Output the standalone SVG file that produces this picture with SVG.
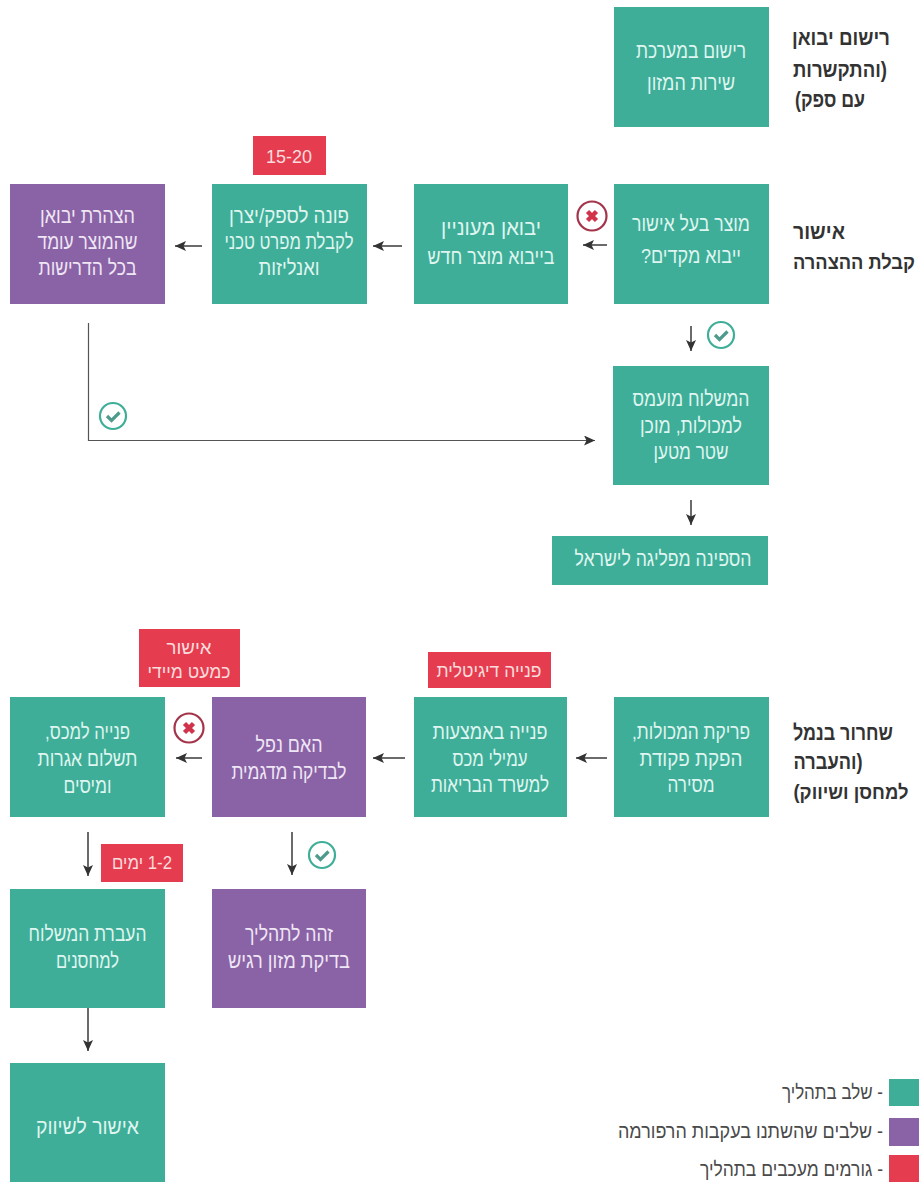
<svg xmlns="http://www.w3.org/2000/svg" width="921" height="1182" viewBox="0 0 921 1182">
<style>
text{font-family:"Liberation Sans","DejaVu Sans",sans-serif;direction:rtl;text-anchor:middle}
.t{fill:#3fae99}.p{fill:#8a62a6}.r{fill:#e63c50}
.bt{font-size:21px;fill:#dff5ef}
.pt{font-size:21px;fill:#efe6f4}
.rt{font-size:19px;fill:#fbdcdc}
.side{font-size:22px;font-weight:bold;fill:#333}
.side.s{font-size:19.500px}
.leg{font-size:20px;fill:#4a4a4a}
.conn{fill:none;stroke:#3a3a3a;stroke-width:1.5}
.thin{stroke:#555;stroke-width:1.2}
</style>
<defs>
<marker id="ah" markerUnits="userSpaceOnUse" markerWidth="12" markerHeight="10" refX="11" refY="5" orient="auto"><path d="M0 0L11 5L0 10L2.5 5Z" fill="#333"/></marker>
<g id="okI"><circle r="13" fill="#fff" stroke="#3fae99" stroke-width="2.2"/><path d="M-6 0L-1.5 4.5L6.5 -3.5" fill="none" stroke="#4f9a8c" stroke-width="3.2"/></g>
<g id="noI"><circle r="14.5" fill="#fff" stroke="#a3344a" stroke-width="2.2"/><path d="M-4.5 -4.5L4.5 4.5M4.5 -4.5L-4.5 4.5" fill="none" stroke="#d0334a" stroke-width="4.5"/></g>
</defs>
<rect width="921" height="1182" fill="#fff"/>
<g id="connectors" class="conn">
<path d="M607 245H583" marker-end="url(#ah)"/>
<path d="M402 246H373" marker-end="url(#ah)"/>
<path d="M202 246H175" marker-end="url(#ah)"/>
<path d="M691 326V351" marker-end="url(#ah)"/>
<path class="thin" d="M88.500 323V440.500H595" marker-end="url(#ah)"/>
<path d="M691 500V525" marker-end="url(#ah)"/>
<path d="M607 758H576" marker-end="url(#ah)"/>
<path d="M405 758H373" marker-end="url(#ah)"/>
<path d="M202 758H176" marker-end="url(#ah)"/>
<path d="M88 832V876" marker-end="url(#ah)"/>
<path d="M292 832V875" marker-end="url(#ah)"/>
<path d="M88 1005V1051" marker-end="url(#ah)"/>
<use href="#noI" x="592" y="216"/>
<use href="#okI" x="721" y="335"/>
<use href="#okI" x="113" y="416"/>
<use href="#noI" x="189" y="728"/>
<use href="#okI" x="322" y="855"/>
</g>
<g id="n-register">
<rect class="t" x="614" y="7" width="155" height="120"/>
<text class="bt" x="691" y="58" textLength="110" lengthAdjust="spacingAndGlyphs">רישום במערכת</text>
<text class="bt" x="691" y="90" textLength="88" lengthAdjust="spacingAndGlyphs">שירות המזון</text>
</g>
<g id="n-preapproved">
<rect class="t" x="614" y="184" width="155" height="120"/>
<text class="bt" x="691" y="231" textLength="118" lengthAdjust="spacingAndGlyphs">מוצר בעל אישור</text>
<text class="bt" x="691" y="263" textLength="100" lengthAdjust="spacingAndGlyphs">ייבוא מקדים?</text>
</g>
<g id="n-newproduct">
<rect class="t" x="414" y="184" width="154" height="120"/>
<text class="bt" x="491" y="235" textLength="100" lengthAdjust="spacingAndGlyphs">יבואן מעוניין</text>
<text class="bt" x="491" y="264" textLength="127" lengthAdjust="spacingAndGlyphs">בייבוא מוצר חדש</text>
</g>
<g id="n-supplier">
<rect class="t" x="212" y="184" width="155" height="120"/>
<text class="bt" x="289" y="223" textLength="120" lengthAdjust="spacingAndGlyphs">פונה לספק/יצרן</text>
<text class="bt" x="289" y="249" textLength="129" lengthAdjust="spacingAndGlyphs">לקבלת מפרט טכני</text>
<text class="bt" x="289" y="275" textLength="61" lengthAdjust="spacingAndGlyphs">ואנליזות</text>
</g>
<g id="n-declaration">
<rect class="p" x="10" y="184" width="155" height="120"/>
<text class="pt" x="87.500" y="223" textLength="95" lengthAdjust="spacingAndGlyphs">הצהרת יבואן</text>
<text class="pt" x="87.500" y="249" textLength="100" lengthAdjust="spacingAndGlyphs">שהמוצר עומד</text>
<text class="pt" x="87.500" y="275" textLength="98" lengthAdjust="spacingAndGlyphs">בכל הדרישות</text>
</g>
<g id="n-shipment">
<rect class="t" x="613" y="366" width="156" height="119"/>
<text class="bt" x="691" y="406" textLength="117" lengthAdjust="spacingAndGlyphs">המשלוח מועמס</text>
<text class="bt" x="691" y="433" textLength="102" lengthAdjust="spacingAndGlyphs">למכולות, מוכן</text>
<text class="bt" x="691" y="459" textLength="75" lengthAdjust="spacingAndGlyphs">שטר מטען</text>
</g>
<g id="n-ship">
<rect class="t" x="552" y="536" width="216" height="49"/>
<text class="bt" x="663" y="566" textLength="177" lengthAdjust="spacingAndGlyphs">הספינה מפליגה לישראל</text>
</g>
<g id="n-unload">
<rect class="t" x="614" y="697" width="155" height="120"/>
<text class="bt" x="691" y="739" textLength="118" lengthAdjust="spacingAndGlyphs">פריקת המכולות,</text>
<text class="bt" x="691" y="766" textLength="103" lengthAdjust="spacingAndGlyphs">הפקת פקודת</text>
<text class="bt" x="691" y="792" textLength="47" lengthAdjust="spacingAndGlyphs">מסירה</text>
</g>
<g id="n-customs-agents">
<rect class="t" x="414" y="697" width="153" height="120"/>
<text class="bt" x="490" y="739" textLength="115" lengthAdjust="spacingAndGlyphs">פנייה באמצעות</text>
<text class="bt" x="490" y="766" textLength="75" lengthAdjust="spacingAndGlyphs">עמילי מכס</text>
<text class="bt" x="490" y="792" textLength="118" lengthAdjust="spacingAndGlyphs">למשרד הבריאות</text>
</g>
<g id="n-sample">
<rect class="p" x="212" y="697" width="154" height="120"/>
<text class="pt" x="289" y="752" textLength="67" lengthAdjust="spacingAndGlyphs">האם נפל</text>
<text class="pt" x="289" y="779" textLength="115" lengthAdjust="spacingAndGlyphs">לבדיקה מדגמית</text>
</g>
<g id="n-customs">
<rect class="t" x="10" y="697" width="155" height="120"/>
<text class="bt" x="87.500" y="739" textLength="85" lengthAdjust="spacingAndGlyphs">פנייה למכס,</text>
<text class="bt" x="87.500" y="766" textLength="100" lengthAdjust="spacingAndGlyphs">תשלום אגרות</text>
<text class="bt" x="87.500" y="793" textLength="48" lengthAdjust="spacingAndGlyphs">ומיסים</text>
</g>
<g id="n-transfer">
<rect class="t" x="10" y="889" width="155" height="119"/>
<text class="bt" x="87.500" y="941" textLength="118" lengthAdjust="spacingAndGlyphs">העברת המשלוח</text>
<text class="bt" x="87.500" y="968" textLength="63" lengthAdjust="spacingAndGlyphs">למחסנים</text>
</g>
<g id="n-sensitive">
<rect class="p" x="212" y="889" width="154" height="119"/>
<text class="pt" x="289" y="941" textLength="88" lengthAdjust="spacingAndGlyphs">זהה לתהליך</text>
<text class="pt" x="289" y="968" textLength="122" lengthAdjust="spacingAndGlyphs">בדיקת מזון רגיש</text>
</g>
<g id="n-marketing">
<rect class="t" x="10" y="1063" width="155" height="119"/>
<text class="bt" x="87.500" y="1134" textLength="103" lengthAdjust="spacingAndGlyphs">אישור לשיווק</text>
</g>
<g id="tag-days">
<rect class="r" x="253" y="136" width="73" height="39"/>
<text class="rt" x="289" y="163" textLength="46" lengthAdjust="spacingAndGlyphs">15-20</text>
</g>
<g id="tag-digital">
<rect class="r" x="428" y="652" width="123" height="36"/>
<text class="rt" x="489" y="677" textLength="105" lengthAdjust="spacingAndGlyphs">פנייה דיגיטלית</text>
</g>
<g id="tag-approval">
<rect class="r" x="139" y="629" width="101" height="58"/>
<text class="rt" x="189" y="654" textLength="45" lengthAdjust="spacingAndGlyphs">אישור</text>
<text class="rt" x="189" y="678" textLength="83" lengthAdjust="spacingAndGlyphs">כמעט מיידי</text>
</g>
<g id="tag-12days">
<rect class="r" x="101" y="844" width="82" height="38"/>
<text class="rt" x="142" y="869" textLength="60" lengthAdjust="spacingAndGlyphs">1-2 ימים</text>
</g>
<g id="labels">
<text class="side" x="841" y="45" textLength="98" lengthAdjust="spacingAndGlyphs">רישום יבואן</text>
<text class="side" x="840" y="77" textLength="94" lengthAdjust="spacingAndGlyphs">(והתקשרות</text>
<text class="side" x="830" y="107" textLength="70" lengthAdjust="spacingAndGlyphs">עם ספק)</text>
<text class="side" x="819" y="239" textLength="52" lengthAdjust="spacingAndGlyphs">אישור</text>
<text class="side s" x="854" y="269" textLength="122" lengthAdjust="spacingAndGlyphs">קבלת ההצהרה</text>
<text class="side" x="843" y="740" textLength="100" lengthAdjust="spacingAndGlyphs">שחרור בנמל</text>
<text class="side" x="828" y="769" textLength="69" lengthAdjust="spacingAndGlyphs">(והעברה</text>
<text class="side s" x="851" y="799" textLength="115" lengthAdjust="spacingAndGlyphs">למחסן ושיווק)</text>
</g>
<g id="legend">
<rect class="t" x="889" y="1079" width="30" height="27"/>
<rect class="p" x="889" y="1118" width="30" height="28"/>
<rect class="r" x="889" y="1155" width="30" height="27"/>
<text class="leg" x="832.500" y="1099" textLength="101" lengthAdjust="spacingAndGlyphs">- שלב בתהליך</text>
<text class="leg" x="750.500" y="1138" textLength="265" lengthAdjust="spacingAndGlyphs">- שלבים שהשתנו בעקבות הרפורמה</text>
<text class="leg" x="791.500" y="1176" textLength="183" lengthAdjust="spacingAndGlyphs">- גורמים מעכבים בתהליך</text>
</g>
</svg>
